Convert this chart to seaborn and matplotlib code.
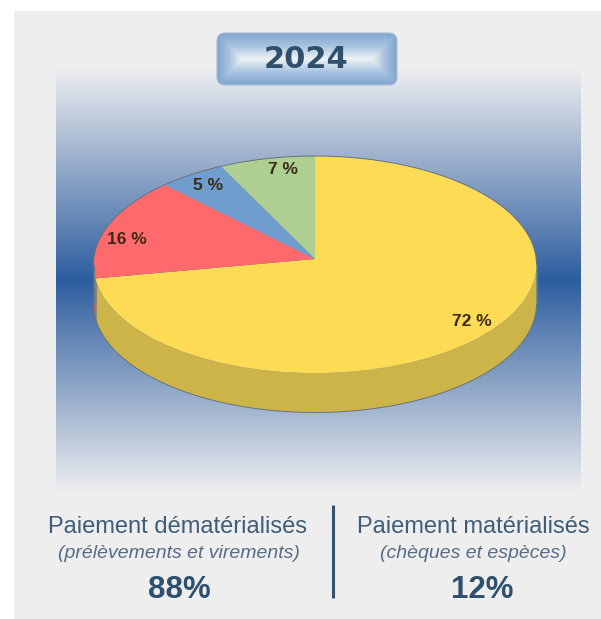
import numpy as np
import matplotlib
matplotlib.use("Agg")
import matplotlib.pyplot as plt
from matplotlib.patches import Ellipse, FancyBboxPatch, Rectangle
import seaborn as sns

# data
year = "2024"
shares = [72, 16, 5, 7]
slice_colors = ["#FDDB55", "#FF6B6C", "#6F9DCD", "#AECF92"]
slice_label_pos = [(472, 322), (127, 239), (208, 186), (283, 170)]
left_title = "Paiement dématérialisés"
left_sub = "(prélèvements et virements)"
left_value = "88%"
right_title = "Paiement matérialisés"
right_sub = "(chèques et espèces)"
right_value = "12%"

W, H = 601, 619
sns.set_theme(style="white")
plt.rcParams["font.family"] = ["Liberation Sans", "DejaVu Sans"]
dark = "#2F506D"
mid = "#3F5D78"

fig = plt.figure(figsize=(W / 100, H / 100), dpi=100, facecolor="white")

# background axes, in picture pixels
bg = fig.add_axes([0, 0, 1, 1])
bg.set_xlim(0, W)
bg.set_ylim(H, 0)
bg.set_axis_off()
bg.add_patch(Rectangle((14, 11), W - 14, H - 11, color="#EEEEEE", lw=0))

# blue band
band = sns.blend_palette(["#EBECEE", "#2E5E9F"], as_cmap=True)
ramp = 1 - np.abs(np.linspace(-1, 1, 421)).reshape(-1, 1)
bg.imshow(ramp, cmap=band, vmin=0, vmax=1, aspect="auto", extent=(56, 581, 490, 70), zorder=1)
bg.set_xlim(0, W)
bg.set_ylim(H, 0)

# year button
bx, by, bw, bh = 217, 33, 180, 52
xx, yy = np.meshgrid(np.arange(bw) + 0.5, np.arange(bh) + 0.5)
edge_x = np.minimum(xx, bw - xx) / 25
edge_y = np.minimum(yy, bh - yy) / 26
shade = np.clip(np.minimum(edge_x, edge_y), 0, 1)
button_cmap = sns.blend_palette(["#7FA5CF", "#A9C3DF", "#EEF2F6"], as_cmap=True)
im = bg.imshow(shade, cmap=button_cmap, vmin=0, vmax=1, aspect="auto", extent=(bx, bx + bw, by + bh, by), zorder=3)
box = FancyBboxPatch((bx + 7, by + 7), bw - 14, bh - 14, boxstyle="round,pad=7,rounding_size=8",
                     fc="none", ec="#A8BDD4", lw=0.8, zorder=4)
bg.add_patch(box)
im.set_clip_path(box)
bg.set_xlim(0, W)
bg.set_ylim(H, 0)
bg.text(306.5, 60, year, ha="center", va="center", fontsize=22, fontweight="bold", color=dark, zorder=5,
        family="DejaVu Sans")

# pie axes: apex at origin, one unit = rx across, ry up
apex_x, apex_y = 315, 259
rx, ry = 221.5, 103
pie_ax = fig.add_axes([0, 0, 1, 1], facecolor="none")
wedges, _ = pie_ax.pie(shares, colors=slice_colors, startangle=90, counterclock=False, radius=1.3,
                       wedgeprops={"linewidth": 0, "zorder": 3})
pie_ax.set_aspect("auto")
pie_ax.set_xlim((0 - apex_x) / rx, (W - apex_x) / rx)
pie_ax.set_ylim((apex_y - H) / ry, apex_y / ry)
pie_ax.set_axis_off()

# the disc outline cuts the wedges
cy = -5.5 / ry
half_h = 108.5 / ry
depth = 39.5 / ry
disc = Ellipse((0, cy), 2, 2 * half_h, fc="none", ec="none", zorder=3)
pie_ax.add_patch(disc)
for w in wedges:
    w.set_clip_on(True)
    w.set_clip_path(disc)

# side wall
t = np.linspace(np.pi, 2 * np.pi, 300)
ex, ey = np.cos(t), cy + half_h * np.sin(t)
split = np.arctan(0.165 / 0.986) + np.pi
red = t <= split
pie_ax.fill(np.r_[ex[red], ex[red][::-1]], np.r_[ey[red], ey[red][::-1] - depth],
            color="#D95A5C", lw=0, zorder=1)
pie_ax.fill(np.r_[ex[~red], ex[~red][::-1]], np.r_[ey[~red], ey[~red][::-1] - depth],
            color="#CDB449", lw=0, zorder=2)
edge = "#66737F"
pie_ax.plot(ex, ey - depth, color=edge, lw=0.7, zorder=4)
pie_ax.plot([-1, -1], [cy, cy - depth], color=edge, lw=0.7, zorder=4)
pie_ax.plot([1, 1], [cy, cy - depth], color=edge, lw=0.7, zorder=4)
t2 = np.linspace(0, np.pi, 300)
pie_ax.plot(np.cos(t2), cy + half_h * np.sin(t2), color=edge, lw=0.7, zorder=4)

# percent labels
for value, (lx, ly) in zip(shares, slice_label_pos):
    bg_x, bg_y = (lx - apex_x) / rx, (apex_y - ly) / ry
    pie_ax.text(bg_x, bg_y, f"{value} %", ha="center", va="center", fontsize=12.5,
                fontweight="bold", color="#3A2A18", zorder=6)

# bottom captions
bg.plot([333, 333], [505, 598], color="#35536F", lw=2.2, solid_capstyle="butt")
for cx, head, sub, val in [(178, left_title, left_sub, left_value), (473, right_title, right_sub, right_value)]:
    bg.text(cx, 527, head, ha="center", va="center", fontsize=17, color=mid)
    bg.text(cx + 1 if cx < 300 else cx, 553, sub, ha="center", va="center", fontsize=14, fontstyle="italic", color="#566C84")
    bg.text(cx + 1 if cx < 300 else cx + 9, 590, val, ha="center", va="center", fontsize=22.5, fontweight="bold", color=dark)

fig.savefig("out.png", dpi=100)
